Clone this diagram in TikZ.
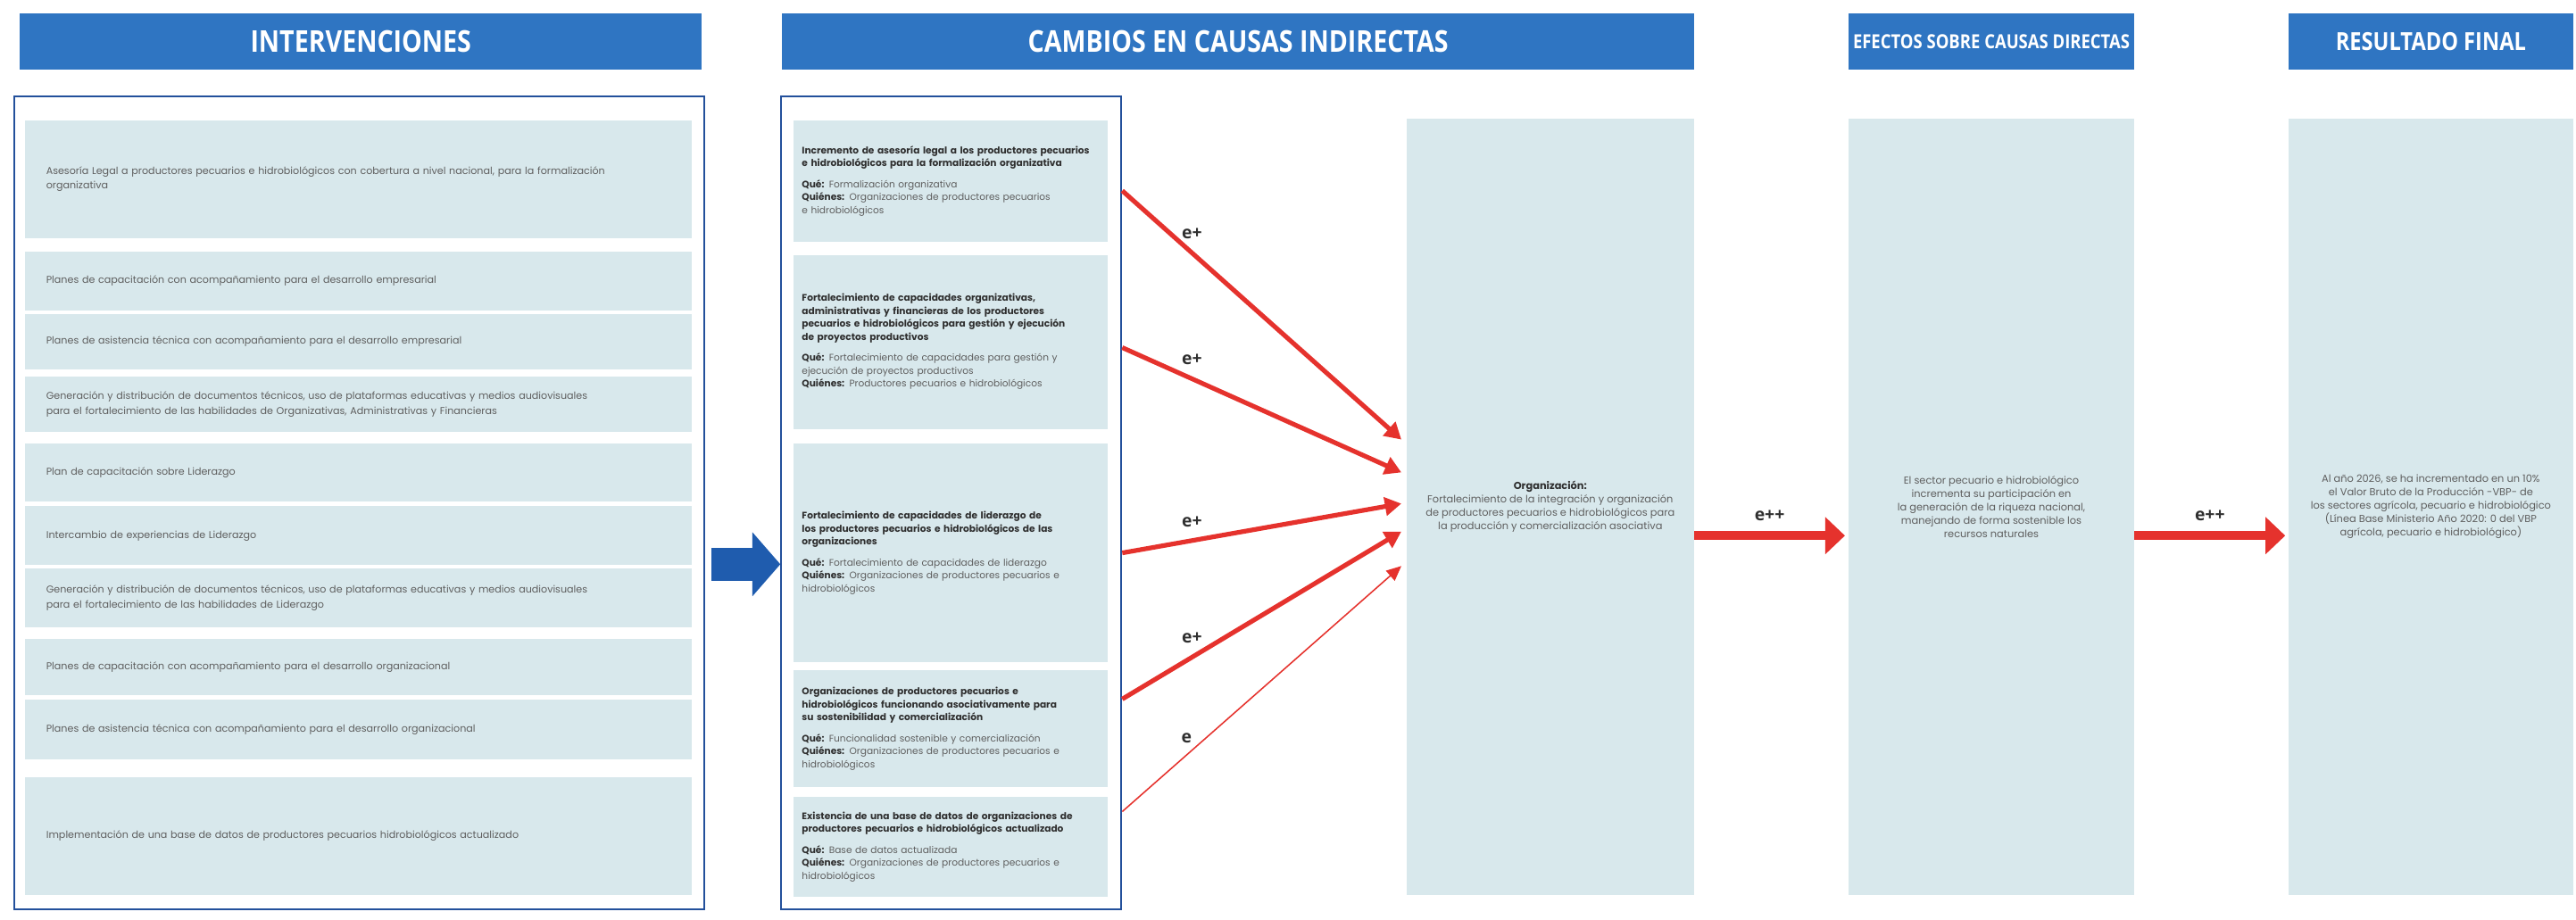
\documentclass[tikz,border=0pt]{standalone}
\usepackage{fontspec}
\setmainfont{Poppins}
\newfontfamily\hdrfont[FakeStretch=0.85]{Open Sans}
\newfontfamily\lblfont{Open Sans}
\usetikzlibrary{arrows.meta, positioning, calc}
\definecolor{hdrBlue}{HTML}{2F75C2}
\definecolor{frameBlue}{HTML}{23509B}
\definecolor{itemFill}{HTML}{D8E8EC}
\definecolor{arrowRed}{HTML}{E5322D}
\definecolor{arrowBlue}{HTML}{1F5CAE}
\definecolor{txtGray}{HTML}{5F5F5F}
\definecolor{txtDark}{HTML}{2F2F2F}
\newcommand{\cbtitle}[1]{{\bfseries\color{txtDark}#1}}
\newcommand{\cblabel}[1]{{\bfseries\color{txtDark}#1}}

\begin{document}
\begin{tikzpicture}[x=0.05cm, y=-0.05cm,
    every node/.style={inner sep=0pt},
    hdr/.style={fill=hdrBlue, text=white, anchor=north west, minimum height=1.7cm,
      font=\hdrfont\bfseries\fontsize{26}{26}\selectfont},
    frame/.style={draw=frameBlue, line width=1.6pt, anchor=north west},
    interv/.style={fill=itemFill, text=txtGray, anchor=north west, align=left,
      text width=19cm, inner xsep=0.65cm, font=\fontsize{8.6}{12.6}\selectfont},
    cambio/.style={fill=itemFill, text=txtGray, anchor=north west, align=left,
      text width=9.05cm, inner xsep=0.25cm, font=\fontsize{8.2}{11.2}\selectfont},
    efecto/.style={fill=itemFill, anchor=north west, minimum height=23.65cm},
    efectotxt/.style={text=txtGray, align=center, font=\fontsize{8.8}{11.6}\selectfont},
    rarrow/.style={draw=arrowRed, line width=4pt, -{Triangle[length=0.5cm, width=0.55cm]}},
    thinarrow/.style={draw=arrowRed, line width=1.2pt, -{Triangle[length=0.45cm, width=0.4cm]}},
    bigarrow/.style={draw=arrowRed, line width=0.28cm, -{Triangle[length=0.6cm, width=1.1cm]}},
    elbl/.style={font=\lblfont\bfseries\fontsize{15}{15}\selectfont, text=txtDark}]

  \useasboundingbox (0,0) rectangle (1568,560);

  % column headers
  \node[hdr, minimum width=20.75cm] (h1) at (12,8) {INTERVENCIONES};
  \node[hdr, minimum width=27.75cm] (h2) at (476,8) {CAMBIOS EN CAUSAS INDIRECTAS};
  \node[hdr, minimum width=8.7cm, font=\hdrfont\bfseries\fontsize{16.8}{16.8}\selectfont] (h3) at (1125,8) {EFECTOS SOBRE CAUSAS DIRECTAS};
  \node[hdr, minimum width=8.65cm, font=\hdrfont\bfseries\fontsize{21.5}{21.5}\selectfont] (h4) at (1393,8) {RESULTADO FINAL};

  % frames
  \node[frame, minimum width=21cm, minimum height=24.75cm] (intervBox) at (8,58) {};
  \node[frame, minimum width=10.35cm, minimum height=24.75cm] (cambiosBox) at (475,58) {};

  % intervenciones
  \node[interv, minimum height=3.6cm] (i1) at (15,73) {Asesoría Legal a productores pecuarios e hidrobiológicos con cobertura a nivel nacional, para la formalización\\ organizativa};
  \node[interv, minimum height=1.8cm] (i2) at (15,153) {Planes de capacitación con acompañamiento para el desarrollo empresarial};
  \node[interv, minimum height=1.7cm] (i3) at (15,191) {Planes de asistencia técnica con acompañamiento para el desarrollo empresarial};
  \node[interv, minimum height=1.7cm] (i4) at (15,229) {Generación y distribución de documentos técnicos, uso de plataformas educativas y medios audiovisuales\\ para el fortalecimiento de las habilidades de  Organizativas, Administrativas y Financieras};
  \node[interv, minimum height=1.75cm] (i5) at (15,270) {Plan de capacitación sobre Liderazgo};
  \node[interv, minimum height=1.8cm] (i6) at (15,308) {Intercambio de experiencias de Liderazgo};
  \node[interv, minimum height=1.8cm] (i7) at (15,346) {Generación y distribución de documentos técnicos, uso de plataformas educativas y medios audiovisuales\\ para el fortalecimiento de las habilidades de Liderazgo};
  \node[interv, minimum height=1.7cm] (i8) at (15,389) {Planes de capacitación con acompañamiento para el desarrollo organizacional};
  \node[interv, minimum height=1.8cm] (i9) at (15,426) {Planes de asistencia técnica con acompañamiento para el desarrollo organizacional};
  \node[interv, minimum height=3.6cm] (i10) at (15,473) {Implementación de una base de datos de productores pecuarios hidrobiológicos actualizado};

  % cambios en causas indirectas
  \node[cambio, minimum height=3.7cm] (c1) at (483,73) {\cbtitle{Incremento de asesoría legal a los productores pecuarios}\\ \cbtitle{e hidrobiológicos para la formalización organizativa}\\[7pt]
    \cblabel{Qué:} Formalización organizativa\\ \cblabel{Quiénes:} Organizaciones de productores pecuarios\\ e hidrobiológicos};
  \node[cambio, minimum height=5.3cm] (c2) at (483,155) {\cbtitle{Fortalecimiento de capacidades organizativas,}\\ \cbtitle{administrativas y financieras de los productores}\\ \cbtitle{pecuarios e hidrobiológicos para gestión y ejecución}\\ \cbtitle{de proyectos productivos}\\[7pt]
    \cblabel{Qué:} Fortalecimiento de capacidades para gestión y\\ ejecución de proyectos productivos\\ \cblabel{Quiénes:} Productores pecuarios e hidrobiológicos};
  \node[cambio, minimum height=6.65cm] (c3) at (483,270) {\cbtitle{Fortalecimiento de capacidades  de liderazgo de}\\ \cbtitle{los productores pecuarios e hidrobiológicos de las}\\ \cbtitle{organizaciones}\\[7pt]
    \cblabel{Qué:} Fortalecimiento de capacidades  de liderazgo\\ \cblabel{Quiénes:}  Organizaciones de productores pecuarios e\\ hidrobiológicos};
  \node[cambio, minimum height=3.55cm] (c4) at (483,408) {\cbtitle{Organizaciones de productores pecuarios e}\\ \cbtitle{hidrobiológicos funcionando asociativamente para}\\ \cbtitle{su sostenibilidad y comercialización}\\[7pt]
    \cblabel{Qué:} Funcionalidad sostenible y comercialización\\ \cblabel{Quiénes:} Organizaciones de productores pecuarios e\\ hidrobiológicos};
  \node[cambio, minimum height=3.05cm] (c5) at (483,485) {\cbtitle{Existencia de una base de datos de organizaciones de}\\ \cbtitle{productores pecuarios e hidrobiológicos actualizado}\\[7pt]
    \cblabel{Qué:} Base de datos actualizada\\ \cblabel{Quiénes:} Organizaciones de productores pecuarios e\\ hidrobiológicos};

  % effect boxes
  \node[efecto, minimum width=8.75cm] (org) at (856,72) {};
  \node[efectotxt] (orgtxt) at (org.center) {\cblabel{Organización:}\\ Fortalecimiento de la integración y organización\\ de productores pecuarios e hidrobiológicos para\\ la producción y comercialización asociativa};
  \node[efecto, minimum width=8.7cm] (efe) at (1125,72) {};
  \node[efectotxt] (efetxt) at (efe.center) {El sector pecuario e hidrobiológico\\ incrementa su participación en\\ la generación de la riqueza nacional,\\ manejando de forma sostenible los\\ recursos naturales};
  \node[efecto, minimum width=8.65cm] (res) at (1393,72) {};
  \node[efectotxt] (restxt) at (res.center) {Al año 2026, se ha incrementado en un 10\%\\ el Valor Bruto de la Producción -VBP- de\\ los sectores agrícola, pecuario e hidrobiológico\\ (Línea Base Ministerio Año 2020: 0 del VBP\\ agrícola, pecuario e hidrobiológico)};

  % blue arrow between columns
  \draw[draw=arrowBlue, line width=1cm, -{Triangle[length=0.85cm, width=1.9cm]}]
    ($(intervBox.east)+(4,37.5)$) -- ($(cambiosBox.west)+(0,37.5)$);

  % red arrows
  \draw[rarrow] ($(c1.east -| cambiosBox.east)+(0,6)$) -- ($(org.west)+(-3,-41)$) node[pos=0.25, above=0.35cm, elbl] {e+};
  \draw[rarrow] ($(c2.east -| cambiosBox.east)+(0,3.5)$) -- ($(org.west)+(-3,-21)$) node[pos=0.25, above=0.35cm, elbl] {e+};
  \draw[rarrow] (c3.east -| cambiosBox.east) -- ($(org.west)+(-3,-2)$) node[pos=0.25, above=0.35cm, elbl] {e+};
  \draw[rarrow] ($(c4.east -| cambiosBox.east)+(0,-18)$) -- ($(org.west)+(-3,15)$) node[pos=0.25, above=0.35cm, elbl] {e+};
  \draw[thinarrow] ($(c5.east -| cambiosBox.east)+(0,-21.5)$) -- ($(org.west)+(-3,36)$) node[pos=0.23, above=0.35cm, elbl] {e};

  \draw[bigarrow] ($(org.east)+(0,17.5)$) -- ($(efe.west)+(-2,17.5)$) node[midway, above=0.3cm, elbl] {e++};
  \draw[bigarrow] ($(efe.east)+(0,17.5)$) -- ($(res.west)+(-2,17.5)$) node[midway, above=0.3cm, elbl] {e++};
\end{tikzpicture}
\end{document}
